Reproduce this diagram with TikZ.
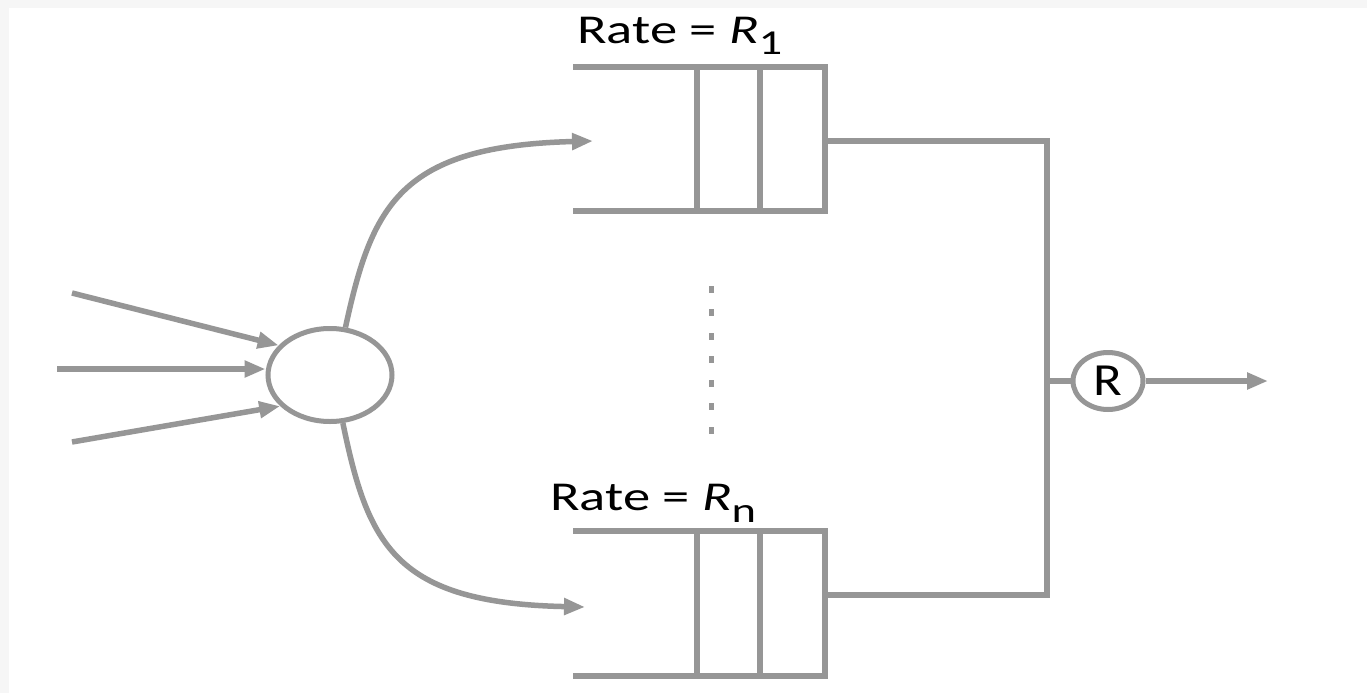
\documentclass[tikz,border=0pt]{standalone}
\usepackage{fontspec}
\setmainfont{Carlito}
\usetikzlibrary{arrows.meta,shapes.geometric}
\definecolor{ln}{RGB}{150,150,150}
\begin{document}
\begin{tikzpicture}[x=1pt,y=-1pt,
  wire/.style={draw=ln,line width=5.5pt},
  arr/.style={wire,-{Triangle[length=21pt,width=16pt]}},
  hub/.style={ellipse,draw=ln,line width=5pt,fill=white,inner sep=0pt},
  lbl/.style={inner sep=0pt,anchor=base west,font=\fontsize{41}{46}\selectfont}]
\useasboundingbox (0,0) rectangle (1367,693);
\fill[gray!7] (0,0) rectangle (1367,693);
\fill[white] (9,8) rectangle (1367,693);
% hub nodes
\node[hub,minimum width=124pt,minimum height=93pt] (src) at (330,375) {};
\node[hub,minimum width=70pt,minimum height=57pt,font=\fontsize{46}{48}\selectfont] (srv) at (1108,381) {\scalebox{1.15}[1]{R}};
% inputs
\coordinate (i1) at (72,293);
\coordinate (i2) at (57,369);
\coordinate (i3) at (72,442);
\draw[arr] (i1) -- (src.150);
\draw[arr] (i2) -- (src.west |- i2);
\draw[arr] (i3) -- (src.212);
% queues
\coordinate (q1in) at (593,141);
\coordinate (qnin) at (585,607);
\coordinate (q1out) at (825,141);
\coordinate (qnout) at (825,595);
\coordinate (bt) at (1047,141);
\coordinate (bb) at (1047,595);
\coordinate (bm) at (1047,381);
\coordinate (out) at (1268,381);
\draw[wire] (573,67) -- (825,67) -- (825,211) -- (573,211);
\draw[wire] (697,67) -- (697,211);
\draw[wire] (760,67) -- (760,211);
\draw[wire] (573,531) -- (825,531) -- (825,676) -- (573,676);
\draw[wire] (697,531) -- (697,676);
\draw[wire] (760,531) -- (760,676);
% split curves
\draw[arr] (src.72) .. controls (372,205) and (400,146) .. (q1in);
\draw[arr] (src.-75) .. controls (368,545) and (395,603) .. (qnin);
% outputs
\draw[wire] (q1out) -- (bt) -- (bb) -- (qnout);
\draw[wire] (bm) -- (srv.west);
\draw[arr] (srv.east) -- (out);
% dots
\foreach \yy in {289,312.5,336,359.5,383,406.5,430}
  \fill[ln] (708.5,\yy-3.5) rectangle (713.5,\yy+3.5);
% labels
\node[lbl] (l1) at (577,44) {\scalebox{1.33}[1]{Rate = \textit{R}\raisebox{-11pt}{\fontsize{35}{40}\selectfont 1}}};
\node[lbl] (ln) at (550,510) {\scalebox{1.33}[1]{Rate = \textit{R}\raisebox{-12pt}{\fontsize{35}{40}\selectfont n}}};
\end{tikzpicture}
\end{document}
